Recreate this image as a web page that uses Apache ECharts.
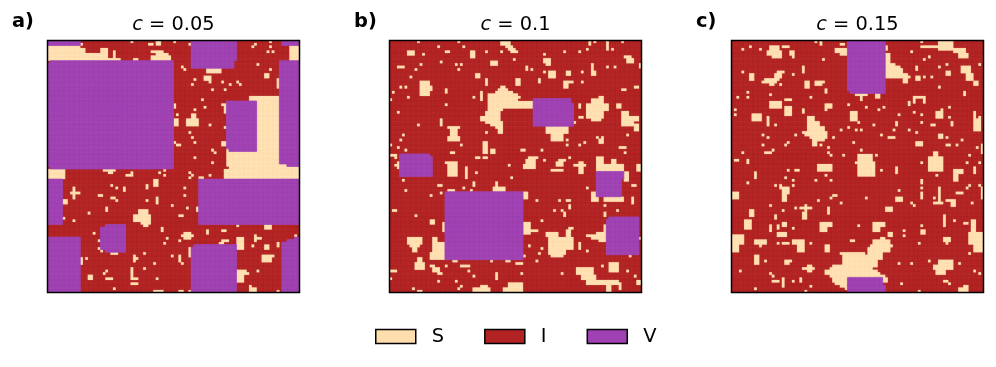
<!DOCTYPE html>
<html>
<head>
<meta charset="utf-8">
<style>html,body{margin:0;padding:0;background:#fff}#c{width:996px;height:367px}</style>
<script src="https://cdn.jsdelivr.net/npm/echarts@6/dist/echarts.min.js"></script>
</head>
<body>
<div id="c"></div>
<script>
const stateNames = ['I', 'S', 'V'];
const legendOrder = ['S', 'I', 'V'];
const panelLabels = ['a)', 'b)', 'c)'];
const panelC = ['0.05', '0.1', '0.15'];
const gridSize = 100;

// rectangles: [x0, x1, y0, y1] inclusive, in lattice cells; dots: [x, y]
const vRectsA = [[0,12,0,1],[1,49,8,8],[0,49,9,49],[1,49,50,50],[57,74,0,7],[57,73,8,10],[93,99,0,1],[92,99,8,48],[95,99,49,49],
 [71,82,24,42],[72,82,43,43],[0,5,55,72],[60,99,55,72],[23,30,73,83],[21,22,74,82],[0,12,78,99],[58,74,81,81],[57,74,82,99],[93,99,80,99],[95,99,79,79],[98,99,78,78]];
const sRectsA = [[11,13,1,1],[0,12,2,2],[0,14,3,4],[0,21,5,5],[0,23,6,6],[0,28,7,7],[21,23,3,5],[26,26,4,6],
 [41,45,4,4],[43,47,5,5],[41,48,6,7],[34,35,7,7],[49,49,8,8],[43,44,0,1],[40,41,1,1],[63,68,11,12],[62,64,14,15],[86,87,13,14],[91,92,15,18],[96,99,2,7],
 [80,91,22,23],[83,91,24,43],[72,91,44,50],[75,99,49,54],[0,6,51,54],[71,72,42,49],[69,70,40,41],[70,74,51,54],
 [69,70,25,25],[70,70,26,28],[50,50,25,26],[50,51,31,33],[55,59,31,33],[57,58,29,30],[50,50,40,40],[22,26,51,51],[24,25,52,52],[31,33,53,53],[33,33,52,53],
 [42,43,55,57],[60,61,54,54],[30,30,58,59],[43,43,62,64],[9,12,60,60],[10,10,58,62],[25,26,62,62],[6,7,63,64],[23,23,66,67],[59,59,66,67],[52,53,69,69],
 [34,40,69,71],[36,39,67,68],[37,40,72,72],[38,39,73,73],[86,88,73,74],[45,45,74,75],[63,63,75,76],[69,70,75,75],[53,57,77,77],[54,56,76,78],[25,27,84,84],
 [69,71,79,79],[68,69,80,80],[75,77,78,82],[74,75,81,82],[82,84,78,78],[82,82,77,79],[86,87,81,82],[91,91,80,81],[56,56,82,85],[34,34,85,87],[52,52,85,87],
 [13,13,86,88],[85,89,85,85],[85,88,86,87],[33,33,90,94],[33,35,94,94],[23,25,94,94],[16,17,93,94],[33,35,96,96],[42,45,99,99],[52,53,99,99],[75,77,91,95],[78,79,92,92],[80,82,98,99],[80,80,97,97]];
const sDotsA = [[33,0],[50,0],[56,1],[53,10],[54,11],[64,16],[58,15],[57,17],[65,19],[69,16],[70,19],[72,17],[75,16],[76,17],[88,11],[83,9],[81,2],[82,1],[88,0],[88,2],[87,4],[89,4],
 [51,29],[61,23],[58,27],[62,26],[64,33],[56,36],[57,38],[58,40],[51,41],[52,41],[58,46],[65,43],[66,44],[65,48],[70,34],
 [44,52],[46,51],[46,53],[56,52],[56,54],[57,53],[64,53],[70,51],[25,57],[27,58],[39,57],[39,58],[54,58],[54,61],[20,61],[21,61],[27,63],[39,63],[49,65],[55,66],[16,68],[6,70],[10,71],
 [75,73],[18,76],[47,78],[52,79],[46,80],[20,79],[20,82],[21,83],[81,81],[98,77],[38,84],[49,85],[35,86],[53,88],[42,88],[15,86],[38,90],[23,91],[22,92],[43,94],[26,98],[56,99],[78,91],[83,91],[91,99]];

const vRectsB = [[57,71,23,24],[57,72,25,33],[4,15,45,45],[4,16,46,53],[82,92,52,54],[82,91,55,61],[22,52,60,86],[87,98,70,70],[86,98,71,84]];
const sRectsB = [[44,47,0,1],[46,48,2,2],[47,49,3,3],[48,50,4,4],[7,9,4,5],[22,23,4,4],[32,33,4,6],[61,63,7,8],[62,63,9,9],[86,86,1,3],[93,95,6,6],[94,96,7,8],
 [40,42,8,9],[3,5,10,10],[54,54,10,11],[63,65,12,14],[70,71,12,13],[80,80,9,11],[80,81,12,13],[34,35,13,14],[38,38,15,17],[50,51,15,17],[59,59,15,16],[69,70,16,18],
 [71,72,16,16],[12,15,16,21],[16,16,18,19],[22,22,19,20],[36,36,20,23],[20,20,31,33],[92,93,19,19],[97,98,18,18],
 [44,45,18,18],[43,46,19,19],[42,48,20,20],[39,50,21,21],[39,51,22,22],[39,50,23,23],[39,56,24,26],[39,44,27,27],[38,43,28,29],[36,43,30,31],[38,44,32,32],[40,44,33,33],[42,44,34,34],[43,44,35,36],
 [62,70,34,36],[64,68,37,39],[75,75,25,26],[75,76,30,30],[83,84,22,22],[80,84,23,24],[78,86,25,27],[78,84,28,30],[80,83,31,31],[90,91,25,26],[92,94,28,29],[92,98,30,31],[92,96,32,33],[97,98,33,35],
 [23,27,34,34],[24,26,35,37],[23,27,38,39],[24,25,44,44],[37,38,40,44],[34,35,46,46],[37,38,46,46],[40,41,43,44],[52,53,43,43],[55,57,46,46],[54,57,47,50],[66,68,48,49],[67,69,47,47],[73,77,49,49],[75,76,48,52],[83,84,39,40],
 [92,93,42,42],[82,84,46,48],[88,89,47,48],[82,92,49,51],[98,99,49,51],[22,26,48,48],[23,26,49,53],[30,30,50,54],[53,56,49,50],[64,68,51,51],[93,94,52,55],[3,4,48,50],[1,2,45,45],[0,1,45,45],
 [19,20,57,57],[23,25,59,59],[41,45,58,59],[42,42,56,57],[53,54,60,62],[80,82,60,63],[85,92,62,63],[96,96,62,64],[85,85,68,69],[1,2,67,67],[70,71,63,63],[71,71,65,66],[69,69,68,69],[16,17,71,72],[21,21,72,75],
 [7,12,78,80],[8,11,81,81],[9,10,82,83],[17,18,78,84],[16,21,84,86],[19,21,80,83],[53,55,72,74],[53,58,75,75],[53,55,76,76],[62,66,76,77],[63,72,78,82],[63,69,83,84],[64,68,85,85],[70,71,75,77],[71,72,74,74],[75,75,80,82],
 [85,86,73,75],[82,86,76,76],[78,86,77,77],[80,86,78,78],[83,86,79,79],[11,12,86,87],[10,13,88,90],[16,17,89,89],[17,19,90,91],[19,20,92,92],[28,31,89,89],[46,47,87,87],[50,52,88,88],[42,42,92,94],[0,2,91,91],[33,39,98,99],[36,38,97,97],
 [45,52,98,99],[47,52,96,97],[74,80,90,92],[76,81,93,94],[78,90,95,96],[86,87,96,99],[87,90,88,91],[98,99,95,96],[91,91,96,98]];
const sDotsB = [[11,0],[27,0],[19,2],[29,2],[13,5],[38,4],[44,4],[49,7],[61,5],[69,4],[75,4],[78,3],[79,0],[79,1],[81,0],[86,0],[88,3],[92,0],[12,9],[20,8],[26,9],[28,9],[27,11],[10,11],[8,14],[56,11],[61,12],[76,12],[86,10],[89,10],[99,9],[99,10],
 [76,16],[1,20],[4,18],[6,18],[7,22],[22,25],[33,22],[0,23],[3,28],[11,33],[73,32],[38,36],[28,41],[5,37],[4,39],[3,42],[6,43],[0,41],[47,49],[71,46],[70,39],[70,41],[75,41],[77,40],[82,38],[84,38],[91,42],[93,44],[94,37],[60,43],[58,46],[61,47],[2,46],[2,49],
 [34,52],[48,54],[5,55],[6,59],[33,56],[33,57],[29,58],[32,59],[20,60],[22,60],[16,61],[58,63],[67,63],[78,58],[96,57],[97,57],[88,63],[91,63],[85,65],[90,67],[10,69],[65,67],[68,67],[60,71],[55,81],[60,82],[59,84],[53,85],[58,87],[78,83],[99,78],[95,85],
 [22,89],[25,87],[26,87],[31,91],[33,93],[40,87],[52,92],[0,94],[19,95],[26,95],[28,97],[27,98],[9,98],[11,99],[12,99],[68,92],[84,89],[94,91],[97,93]];

const vRectsC = [[46,60,0,19],[47,60,20,20],[46,59,94,96],[46,60,97,99]];
const sRectsC = [[35,35,0,1],[43,44,1,1],[41,45,3,4],[43,46,5,5],[15,18,2,3],[14,19,4,5],[16,19,6,6],[20,22,2,2],[23,24,4,5],[61,61,2,3],[61,62,5,8],[61,64,9,9],[61,66,10,10],[61,67,11,12],[61,69,13,13],[61,70,14,14],[68,69,15,16],
 [75,83,2,2],[82,87,0,3],[88,92,3,4],[90,93,5,6],[73,73,10,11],[85,86,12,13],[91,94,10,12],[93,95,13,15],[96,97,16,17],[73,74,14,15],[7,8,13,15],[18,20,12,12],[17,19,13,14],[13,18,15,15],[12,17,16,16],[15,16,17,17],[28,28,10,12],
 [29,30,16,18],[33,35,16,17],[37,37,19,20],[21,23,23,23],[15,19,24,26],[21,23,26,29],[28,28,27,28],[37,39,25,26],[8,11,29,31],[14,14,30,32],
 [30,32,30,31],[30,34,32,33],[30,36,34,35],[28,37,36,36],[29,37,37,37],[31,37,38,38],[32,36,39,39],[32,33,40,41],
 [49,53,21,21],[51,51,22,23],[57,58,21,22],[47,49,28,31],[72,76,22,22],[72,72,23,24],[76,76,23,24],[70,70,24,25],[81,83,28,30],[83,83,27,27],[87,87,32,33],[65,65,32,33],[82,83,37,38],[96,96,28,31],[96,98,31,35],[62,64,38,38],
 [13,15,44,44],[73,75,40,41],[85,86,41,41],[99,99,41,44],[50,55,45,47],[49,56,48,48],[50,56,49,53],[34,39,49,51],[78,83,46,51],[80,81,44,45],[6,6,47,48],[1,2,47,47],
 [9,9,52,54],[25,26,51,51],[65,65,50,52],[88,91,51,52],[88,89,53,55],[96,96,50,52],[75,75,55,56],[19,19,57,58],[89,91,60,60],[82,82,58,63],[75,75,60,62],[99,99,58,62],[20,22,58,60],[20,21,61,63],[0,2,60,62],[40,41,61,61],[65,67,62,63],[80,83,64,64],[85,88,63,63],[87,88,64,65],
 [27,31,66,66],[29,29,65,68],[28,29,68,70],[38,38,66,68],[61,63,66,67],[7,8,67,69],[17,17,69,70],[5,7,71,74],[84,84,69,73],[92,93,72,72],[15,15,73,75],[18,18,73,74],[20,21,72,73],[35,39,72,73],[35,37,74,75],[56,60,72,73],[56,58,74,75],[62,63,76,77],[75,76,75,76],
 [95,96,71,75],[94,99,76,80],[96,99,81,83],[84,86,78,79],[85,85,80,80],[0,4,77,80],[0,2,81,83],[9,13,79,80],[18,21,76,77],[20,22,80,80],[24,28,79,80],[26,28,81,83],[37,38,81,83],[47,48,79,79],
 [59,60,78,78],[56,62,79,80],[55,63,81,81],[54,62,82,83],[43,52,84,84],[54,59,84,84],[44,59,85,86],[44,57,87,88],[40,57,89,89],[39,55,90,90],[37,57,91,91],[37,58,92,92],[39,60,93,93],[40,46,94,95],[60,61,94,95],[41,46,96,96],[43,46,97,97],[45,45,98,98],
 [9,10,85,88],[21,23,87,87],[21,22,88,88],[28,32,90,90],[30,31,89,91],[16,18,95,95],[20,20,94,97],[80,87,89,90],[82,87,87,88],[81,84,91,92],[84,85,95,95],[90,93,98,99],[92,93,97,97]];
const sDotsC = [[33,0],[4,3],[7,2],[11,3],[24,6],[36,7],[71,4],[76,7],[78,6],[75,0],[82,10],[85,9],[76,14],[79,14],[82,18],[92,20],[92,21],[98,9],[4,12],[24,13],[19,17],[36,16],[31,22],[2,22],[6,20],[6,22],[15,21],[37,27],[1,27],[1,29],[14,33],[17,33],[37,36],[25,37],[14,38],[12,37],[12,41],[22,40],[21,41],[35,41],[40,38],
 [53,26],[46,25],[58,27],[60,26],[50,32],[43,35],[46,34],[49,35],[51,35],[56,33],[66,29],[64,35],[59,37],[70,35],[73,36],[72,28],[75,29],[75,32],[79,33],[80,33],[86,26],[86,30],[85,38],[91,39],[98,30],
 [4,44],[16,43],[38,42],[38,44],[39,45],[44,45],[48,40],[51,43],[57,45],[89,41],[97,42],[94,45],[93,48],[98,48],[75,48],[22,51],[59,51],[81,53],[21,54],[24,55],[33,55],[39,55],[37,53],[6,56],[17,57],[24,57],[75,58],[66,59],[98,57],[94,57],[93,58],[39,62],[34,63],[43,64],[53,62],[71,64],[72,65],[80,62],[95,64],[15,65],[20,67],[25,66],[50,73],[24,74],[68,75],[68,77],[74,80],[11,81],[18,80],[31,80],[75,73],[88,71],[94,84],[13,87],[66,88],[71,88],[78,87],[90,88],[3,91],[15,92],[16,93],[24,95],[27,94],[27,95],[31,97],[29,99],[9,98],[96,91],[98,92],[67,96],[74,99],[86,96]];

const panelRects = [
  {v: vRectsA, s: sRectsA, d: sDotsA},
  {v: vRectsB, s: sRectsB, d: sDotsB},
  {v: vRectsC, s: sRectsC, d: sDotsC}
];
const colors = {S: '#FFDEAD', I: '#B22222', V: '#9F41B2'};
const seamWidth = {S: 0.2, I: 0.7, V: 0.7};
const panelLeft = [47.5, 389.5, 731.5];
const labelLeft = [12, 354, 696];
const axisCells = Array.from({length: gridSize}, (_, i) => i);

function cellsFor(p) {
  const g = axisCells.map(() => new Array(gridSize).fill(0));
  p.s.forEach(r => { for (let y = r[2]; y <= r[3]; y++) for (let x = r[0]; x <= r[1]; x++) g[y][x] = 1; });
  p.d.forEach(c => { g[c[1]][c[0]] = 1; });
  p.v.forEach(r => { for (let y = r[2]; y <= r[3]; y++) for (let x = r[0]; x <= r[1]; x++) g[y][x] = 2; });
  const out = [[], [], []];
  g.forEach((row, y) => row.forEach((v, x) => out[v].push([x, y])));
  return out;
}

function cellRenderer(name) {
  return function (params, api) {
    const c = api.coord([api.value(0), api.value(1)]);
    const s = api.size([1, 1]);
    return {type: 'rect', silent: true,
      shape: {x: c[0] - s[0] / 2, y: c[1] - s[1] / 2, width: s[0], height: s[1]},
      style: {fill: colors[name], stroke: colors[name], lineWidth: seamWidth[name]}};
  };
}

const grids = [], xAxes = [], yAxes = [], series = [], titles = [];
panelRects.forEach((p, i) => {
  grids.push({left: panelLeft[i], top: 40.5, width: 252, height: 252, show: true, z: 6,
    backgroundColor: 'transparent', borderColor: '#000', borderWidth: 1.5});
  const ax = {type: 'category', data: axisCells, gridIndex: i, boundaryGap: true,
    axisLine: {show: false}, axisTick: {show: false}, axisLabel: {show: false}, splitLine: {show: false}};
  xAxes.push(ax);
  yAxes.push(Object.assign({}, ax, {inverse: true}));
  const cells = cellsFor(p);
  stateNames.forEach((n, k) => series.push({
    name: n, type: 'custom', coordinateSystem: 'cartesian2d', xAxisIndex: i, yAxisIndex: i, data: cells[k], z: 2 + k,
    encode: {x: 0, y: 1}, progressive: 0, animation: false, clip: true, itemStyle: {color: colors[n]},
    renderItem: cellRenderer(n)
  }));
  titles.push({text: '{i|c}{n| = ' + panelC[i] + '}', left: panelLeft[i] + 121, top: 10, textAlign: 'center',
    textStyle: {fontWeight: 'normal', rich: {
      i: {fontFamily: 'DejaVu Sans', fontStyle: 'italic', fontWeight: 'normal', fontSize: 19.4, color: '#000'},
      n: {fontFamily: 'DejaVu Sans', fontWeight: 'normal', fontSize: 19.4, color: '#000'}}}});
  titles.push({text: panelLabels[i], left: labelLeft[i] - 5, top: 7,
    textStyle: {fontFamily: 'DejaVu Sans', fontWeight: 'bold', fontSize: 19.4, color: '#000'}});
});

const chart = echarts.init(document.getElementById('c'), null, {renderer: 'canvas'});
chart.setOption({
  animation: false,
  backgroundColor: '#fff',
  title: titles,
  grid: grids,
  xAxis: xAxes,
  yAxis: yAxes,
  tooltip: {show: false},
  legend: {data: legendOrder, left: 370, top: 322, icon: 'rect', itemWidth: 40, itemHeight: 14, itemGap: 40,
    selectedMode: false, itemStyle: {borderColor: '#000', borderWidth: 1.5},
    textStyle: {fontFamily: 'DejaVu Sans', fontSize: 19.4, color: '#000', padding: [0, 0, 0, 11]}},
  series: series
});
</script>
</body>
</html>
